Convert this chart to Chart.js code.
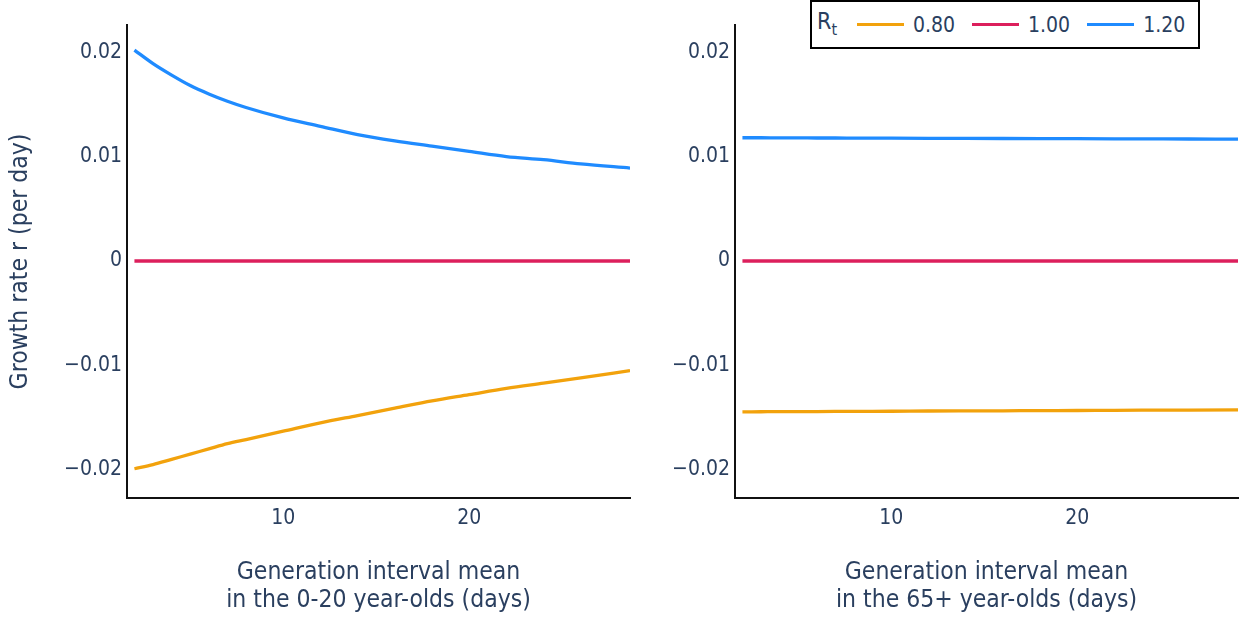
<!DOCTYPE html>
<html>
<head>
<meta charset="utf-8">
<script src="https://cdn.jsdelivr.net/npm/chart.js@4.4.1/dist/chart.umd.min.js"></script>
<style>
  html, body { margin: 0; padding: 0; background: #fff; }
  body { width: 1243px; height: 617px; position: relative; overflow: hidden;
         font-family: "DejaVu Sans Condensed", "Liberation Sans", sans-serif; color: #2a3f5f; }
  .panel { position: absolute; top: 0; height: 617px; }
  #leftPanel { left: 0; width: 640px; }
  #rightPanel { left: 640px; width: 603px; }
  #legend { position: absolute; left: 810px; top: 0; width: 381px; height: 45px;
            border: 2px solid #000; background: #fff; display: flex; align-items: center;
            padding-left: 5px; box-sizing: content-box; font-size: 21px; }
  #legend .ttl { font-size: 23px; margin-top: -3px; }
  #legend .ttl sub { font-size: 16px; vertical-align: -6px; }
  #legend .sw { width: 47px; height: 3.5px; }
  #legend .lb { margin-left: 9px; }
</style>
</head>
<body>
<div id="leftPanel" class="panel"><canvas id="leftChart"></canvas></div>
<div id="rightPanel" class="panel"><canvas id="rightChart"></canvas></div>
<div id="legend"></div>
<script>
// Generation interval mean (days) at which the growth rate was evaluated
const genIntervalDays = [2, 3, 4, 5, 6, 7, 8, 10, 12, 14, 16, 18, 20, 22, 24, 26, 28.65];

// Reproduction number scenarios
const rtLabels = ['0.80', '1.00', '1.20'];
const rtColors = ['#f2a20c', '#dc1f5c', '#1f8bff'];

// Growth rate r (per day) when varying the 0-20 year-olds' generation interval
const youngRt080 = [-0.0199, -0.0195, -0.0190, -0.0185, -0.0180, -0.0175, -0.0171, -0.0163, -0.0155,
                    -0.0148, -0.0141, -0.0134, -0.0128, -0.0122, -0.0117, -0.0112, -0.0105];
const youngRt100 = [0, 0, 0, 0, 0, 0, 0, 0, 0, 0, 0, 0, 0, 0, 0, 0, 0];
const youngRt120 = [0.0202, 0.0189, 0.0178, 0.0168, 0.0160, 0.0153, 0.0147, 0.0137, 0.0129,
                    0.0121, 0.0115, 0.0110, 0.0105, 0.0100, 0.0097, 0.0093, 0.0089];

// Growth rate r (per day) when varying the 65+ year-olds' generation interval
const oldRt080 = [-0.01445, -0.01444, -0.01443, -0.01443, -0.01442, -0.01441, -0.01440, -0.01439, -0.01437,
                  -0.01436, -0.01435, -0.01433, -0.01432, -0.01430, -0.01429, -0.01428, -0.01426];
const oldRt100 = [0, 0, 0, 0, 0, 0, 0, 0, 0, 0, 0, 0, 0, 0, 0, 0, 0];
const oldRt120 = [0.01180, 0.01180, 0.01179, 0.01179, 0.01178, 0.01178, 0.01177, 0.01176, 0.01175,
                  0.01174, 0.01173, 0.01172, 0.01171, 0.01170, 0.01169, 0.01168, 0.01167];

// Axis ticks and ranges
const xTickValues = [10, 20];
const yTickValues = [-0.02, -0.01, 0, 0.01, 0.02];
const xRange = [1.6, 28.65];
const yRange = [-0.0227, 0.0226];

const yAxisTitle = 'Growth rate r (per day)';
const leftXTitle = ['Generation interval mean', 'in the 0-20 year-olds (days)'];
const rightXTitle = ['Generation interval mean', 'in the 65+ year-olds (days)'];

const FONT = '"DejaVu Sans Condensed", "Liberation Sans", sans-serif';
const TEXT = '#2a3f5f';

function fmtY(v) {
  if (Math.abs(v) < 1e-12) return '0';
  return (v < 0 ? '\u2212' : '') + Math.abs(v).toFixed(2);
}

function makeDatasets(series) {
  return series.map((vals, i) => ({
    label: rtLabels[i],
    data: genIntervalDays.map((x, j) => ({ x: x, y: vals[j] })),
    borderColor: rtColors[i],
    backgroundColor: rtColors[i],
    borderWidth: 3.3,
    pointRadius: 0,
    cubicInterpolationMode: 'monotone',
    fill: false
  }));
}

function makeChart(canvasId, series, xTitle, withYTitle, yAxisWidth, padRight) {
  return new Chart(document.getElementById(canvasId), {
    type: 'line',
    data: { datasets: makeDatasets(series) },
    options: {
      responsive: true,
      maintainAspectRatio: false,
      animation: false,
      layout: { padding: { top: 25, right: padRight, left: 0, bottom: 0 } },
      plugins: { legend: { display: false }, tooltip: { enabled: false } },
      scales: {
        x: {
          type: 'linear',
          min: xRange[0],
          max: xRange[1],
          afterBuildTicks: s => { s.ticks = xTickValues.map(v => ({ value: v })); },
          afterFit: s => { s.height = 119; },
          grid: { display: false, drawTicks: false },
          border: { display: true, color: '#111', width: 2 },
          ticks: {
            color: TEXT, padding: 8, maxRotation: 0,
            font: { family: FONT, size: 21 },
            callback: v => String(v)
          },
          title: {
            display: true, text: xTitle, color: TEXT,
            font: { family: FONT, size: 24.5, lineHeight: '28px' },
            padding: { top: 0, bottom: 2 }
          }
        },
        y: {
          type: 'linear',
          min: yRange[0],
          max: yRange[1],
          afterBuildTicks: s => { s.ticks = yTickValues.map(v => ({ value: v })); },
          afterFit: s => { s.width = yAxisWidth; },
          grid: { display: false, drawTicks: false },
          border: { display: true, color: '#111', width: 2 },
          ticks: {
            color: TEXT, padding: 5,
            font: { family: FONT, size: 21 },
            callback: v => fmtY(v)
          },
          title: {
            display: withYTitle, text: yAxisTitle, color: TEXT,
            font: { family: FONT, size: 24.5 },
            padding: { top: 6, bottom: 0 }
          }
        }
      }
    }
  });
}

makeChart('leftChart', [youngRt080, youngRt100, youngRt120], leftXTitle, true, 127, 10);
makeChart('rightChart', [oldRt080, oldRt100, oldRt120], rightXTitle, false, 95, 5);

// Legend with the R_t title and one entry per scenario
const legend = document.getElementById('legend');
const ttl = document.createElement('span');
ttl.className = 'ttl';
ttl.innerHTML = 'R<sub>t</sub>';
legend.appendChild(ttl);
rtLabels.forEach((lab, i) => {
  const sw = document.createElement('span');
  sw.className = 'sw';
  sw.style.background = rtColors[i];
  sw.style.marginLeft = i === 0 ? '20px' : '17px';
  legend.appendChild(sw);
  const t = document.createElement('span');
  t.className = 'lb';
  t.textContent = lab;
  legend.appendChild(t);
});
</script>
</body>
</html>
